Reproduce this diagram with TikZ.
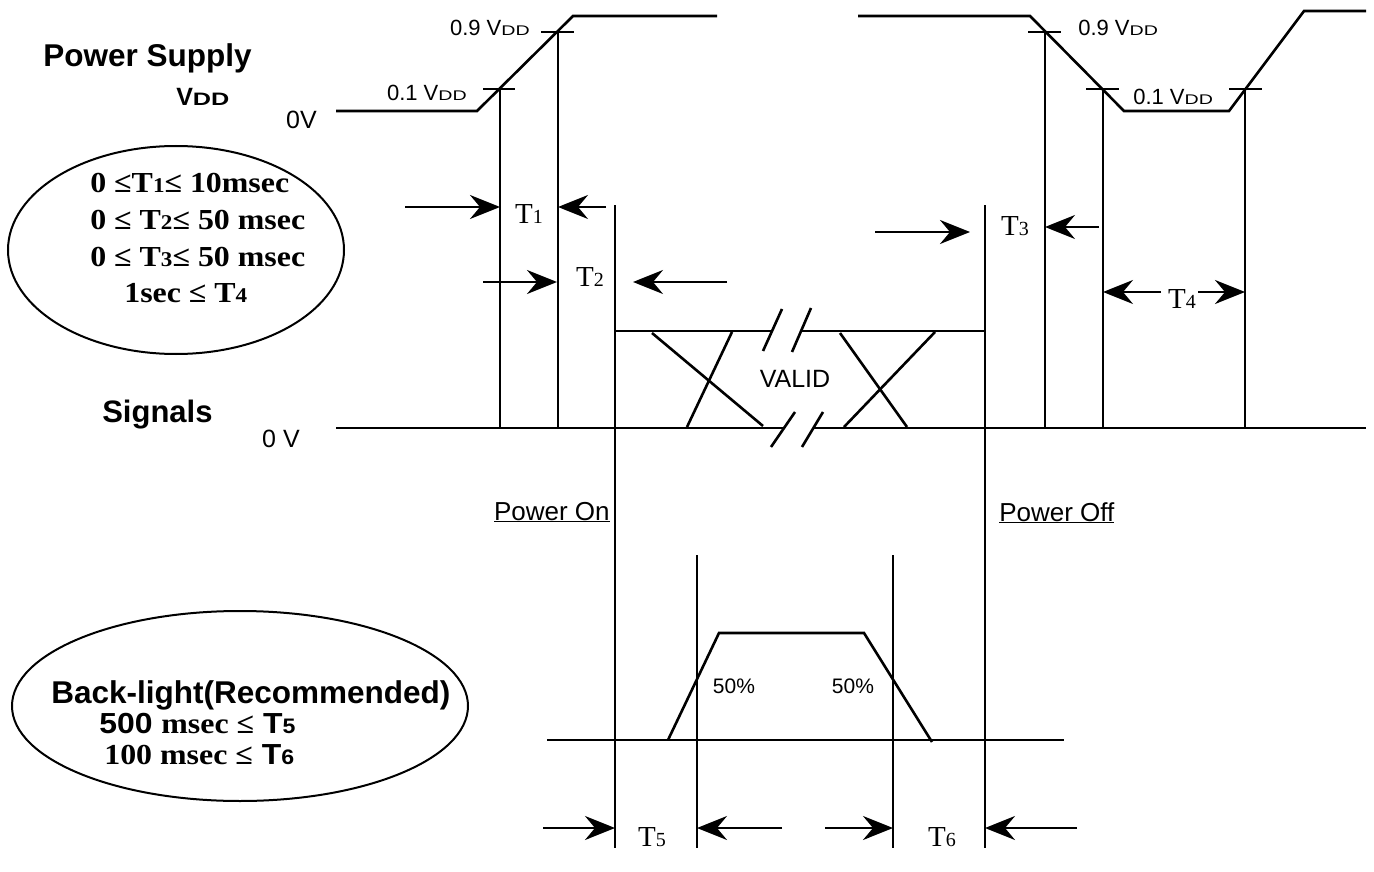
\documentclass[tikz,border=0pt]{standalone}
\usepackage{fontspec}
\usepackage{graphicx}
\setmainfont{Liberation Sans}
\newfontfamily\tms{Liberation Serif}
\usetikzlibrary{arrows.meta,shapes.geometric}
\newcommand{\fsz}[1]{\fontsize{#1}{#1}\selectfont}
\newcommand{\vddsub}[1]{{\fsz{#1}\scalebox{1.4}[1]{DD}}}
\newcommand{\tsub}[1]{{\fsz{20}#1}}
\newcommand{\bsub}[1]{{\fsz{21}#1}}
\newcommand{\wide}[1]{\scalebox{1.1}[1]{#1}}
\begin{document}
\begin{tikzpicture}[x=1pt,y=-1pt,line width=2.6pt,
  arr/.style={-{Stealth[length=30pt,width=24pt,inset=10pt]}},
  lbl/.style={inner sep=0pt,anchor=base},
  lw/.style={inner sep=0pt,anchor=base west},
  le/.style={inner sep=0pt,anchor=base east},
  oval/.style={draw,ellipse,line width=2pt}]
\useasboundingbox (0,0) rectangle (1374,872);

% ---------- power supply waveform ----------
\draw (336,111) -- (477,111) -- (573,16) -- (717,16);
\draw (483,89) -- (515,89);
\draw (541,32) -- (574,32);
\draw (858,16) -- (1030,16) -- (1124,111) -- (1229,111) -- (1304,11) -- (1366,11);
\draw (1028,32) -- (1061,32);
\draw (1086,89) -- (1119,89);
\draw (1229,89) -- (1262,89);

% ---------- verticals ----------
\draw (500,89) -- (500,428);
\draw (558,32) -- (558,428);
\draw (1045,32) -- (1045,428);
\draw (1103,89) -- (1103,428);
\draw (1245,89) -- (1245,428);
\draw (615,205) -- (615,848);
\draw (985,205) -- (985,848);
\draw (697,555) -- (697,848);
\draw (893,555) -- (893,848);

% ---------- signals ----------
\draw (336,428) -- (785,428);
\draw (813,428) -- (1366,428);
\draw (615,331) -- (773,331);
\draw (800,331) -- (986,331);
\draw (782,309) -- (763,351);
\draw (811,308) -- (792,352);
\draw (795,412) -- (771,447);
\draw (823,412) -- (802,447);
\draw (652,333) -- (763,426);
\draw (732,332) -- (687,427);
\draw (840,333) -- (907,427);
\draw (935,332) -- (844,427);

% ---------- backlight ----------
\draw (547,740) -- (1064,740);
\draw (668,740) -- (719,633) -- (864,633) -- (932,742);

% ---------- arrows ----------
\draw[arr] (405,207) -- (500,207);
\draw[arr] (606,207) -- (558,207);
\draw[arr] (483,282) -- (557,282);
\draw[arr] (727,282) -- (633,282);
\draw[arr] (875,232) -- (970,232);
\draw[arr] (1099,227) -- (1045,227);
\node[lbl,font=\tms\fsz{29}] (t4) at (1182,308) {T\tsub{4}};
\draw[arr] (1161,292) -- (1103,292);
\draw[arr] (1198,292) -- (1245,292);
\draw[arr] (543,828) -- (615,828);
\draw[arr] (782,828) -- (697,828);
\draw[arr] (825,828) -- (893,828);
\draw[arr] (1077,828) -- (985,828);

% ---------- T labels ----------
\node[lbl,font=\tms\fsz{29}] (t1) at (529,223) {T\tsub{1}};
\node[lbl,font=\tms\fsz{29}] (t2) at (590,286) {T\tsub{2}};
\node[lbl,font=\tms\fsz{29}] (t3) at (1015,235) {T\tsub{3}};
\node[lbl,font=\tms\fsz{29}] (t5) at (652,846) {T\tsub{5}};
\node[lbl,font=\tms\fsz{29}] (t6) at (942,846) {T\tsub{6}};

% ---------- sans labels ----------
\node[le,font=\fsz{22}] (v9l) at (531,36) {0.9 V\vddsub{14}};
\node[le,font=\fsz{22}] (v1l) at (468,101) {0.1 V\vddsub{14}};
\node[lw,font=\fsz{22}] (v9r) at (1077,36) {0.9 V\vddsub{14}};
\node[lw,font=\fsz{22}] (v1r) at (1132,105) {0.1 V\vddsub{14}};
\node[le,font=\fsz{25}] (zv1) at (318,129) {0V};
\node[le,font=\fsz{25}] (zv2) at (301,447) {0 V};
\node[lw,font=\bfseries\fsz{31.5}] (ps) at (42,67) {Power Supply};
\node[lw,font=\bfseries\fsz{25}] (vdd) at (175,106) {V\vddsub{18}};
\node[lw,font=\bfseries\fsz{31}] (sig) at (101,422) {Signals};
\node[lbl,font=\fsz{25}] (valid) at (795,387) {VALID};
\node[le,font=\fsz{26}] (pon) at (611,520) {\underline{Power On}};
\node[lw,font=\fsz{26}] (poff) at (998,521) {\underline{Power Off}};
\node[lbl,font=\fsz{21}] (p1) at (734,693) {50\%};
\node[lbl,font=\fsz{21}] (p2) at (853,693) {50\%};

% ---------- ellipses ----------
\node[oval,minimum width=336pt,minimum height=208pt] (e1) at (176,250) {};
\node[lw,font=\tms\bfseries\fsz{29}] (c1) at (89,193) {\wide{0 ≤T\bsub{1}≤ 10msec}};
\node[lw,font=\tms\bfseries\fsz{29}] (c2) at (89,229) {\wide{0 ≤ T\bsub{2}≤ 50 msec}};
\node[lw,font=\tms\bfseries\fsz{29}] (c3) at (89,266) {\wide{0 ≤ T\bsub{3}≤ 50 msec}};
\node[lw,font=\tms\bfseries\fsz{29}] (c4) at (123,302) {\wide{1sec ≤ T\bsub{4}}};

\node[oval,minimum width=456pt,minimum height=190pt] (e2) at (240,706) {};
\node[lw,font=\bfseries\fsz{31.5}] (b1) at (50,703) {Back-light(Recommended)};
\node[lw,font=\bfseries\fsz{29}] (b2) at (98,733) {\wide{500 {\tms msec ≤} T{\fsz{21}5}}};
\node[lw,font=\bfseries\fsz{29}] (b3) at (103,764) {\wide{{\tms 100 msec ≤} T{\fsz{21}6}}};
\end{tikzpicture}
\end{document}
